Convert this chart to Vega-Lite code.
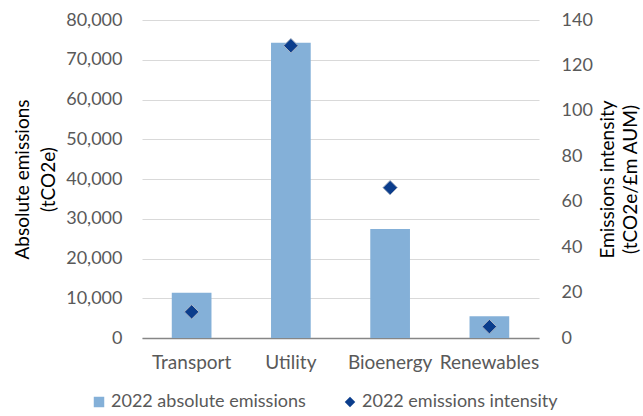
{
  "$schema": "https://vega.github.io/schema/vega-lite/v6.json",
  "width": 397,
  "height": 318,
  "autosize": "none",
  "padding": {"left": 142, "top": 20, "right": 104, "bottom": 78},
  "background": "white",
  "config": {
    "view": {"stroke": null},
    "font": "Lato",
    "axis": {"labelFont": "Lato", "titleFont": "Lato", "labelColor": "#595959", "labelFontSize": 18, "titleFontSize": 19, "titleFontWeight": "normal", "titleColor": "#000000", "labelOverlap": false},
    "legend": {"labelFont": "Lato", "labelFontSize": 18, "labelColor": "#595959", "labelLimit": 400}
  },
  "data": {
    "values": [
      {"sector": "Transport", "series": "2022 absolute emissions", "value": 11400},
      {"sector": "Utility", "series": "2022 absolute emissions", "value": 74300},
      {"sector": "Bioenergy", "series": "2022 absolute emissions", "value": 27400},
      {"sector": "Renewables", "series": "2022 absolute emissions", "value": 5500},
      {"sector": "Transport", "series": "2022 emissions intensity", "value": 11.5},
      {"sector": "Utility", "series": "2022 emissions intensity", "value": 128.7},
      {"sector": "Bioenergy", "series": "2022 emissions intensity", "value": 66.2},
      {"sector": "Renewables", "series": "2022 emissions intensity", "value": 5.0}
    ]
  },
  "encoding": {
    "x": {
      "field": "sector", "type": "nominal", "sort": ["Transport", "Utility", "Bioenergy", "Renewables"],
      "scale": {"paddingInner": 0.6, "paddingOuter": 0.3},
      "axis": {"title": null, "labelAngle": 0, "ticks": false, "labelPadding": 15, "labelFontSize": 19, "domainColor": "#868686", "domainWidth": 1.5}
    }
  },
  "layer": [
    {
      "transform": [{"filter": "datum.series === '2022 absolute emissions'"}],
      "mark": {"type": "bar", "color": "#84b0d8"},
      "encoding": {
        "y": {
          "field": "value", "type": "quantitative",
          "scale": {"domain": [0, 80000], "nice": false},
          "axis": {"title": ["Absolute emissions", "(tCO2e)"], "values": [0,10000,20000,30000,40000,50000,60000,70000,80000], "format": ",.0f", "ticks": false, "domain": false, "labelPadding": 20, "gridColor": "#d9d9d9", "titlePadding": 7, "titleLineHeight": 26}
        },
        "color": {
          "field": "series", "type": "nominal",
          "scale": {"domain": ["2022 absolute emissions", "2022 emissions intensity"], "range": ["#84b0d8", "#0b3d8c"]},
          "legend": {"title": null, "orient": "none", "legendX": -52, "legendY": 373, "direction": "horizontal", "columnPadding": 35, "symbolSize": 110, "labelOffset": 3, "symbolStrokeWidth": 0}
        }
      }
    },
    {
      "transform": [{"filter": "datum.series === '2022 emissions intensity'"}],
      "mark": {"type": "point", "filled": true, "size": 210, "stroke": "#aab4c4", "strokeWidth": 1, "opacity": 1},
      "encoding": {
        "y": {
          "field": "value", "type": "quantitative",
          "scale": {"domain": [0, 140], "nice": false},
          "axis": {"orient": "right", "title": ["Emissions intensity", "(tCO2e/£m AUM)"], "values": [0,20,40,60,80,100,120,140], "ticks": false, "domain": false, "grid": false, "labelPadding": 22, "titleAngle": 270, "titlePadding": 2, "titleLineHeight": 23}
        },
        "color": {"field": "series", "type": "nominal"},
        "shape": {
          "field": "series", "type": "nominal",
          "scale": {"domain": ["2022 absolute emissions", "2022 emissions intensity"], "range": ["square", "diamond"]},
          "legend": {"title": null, "orient": "none", "legendX": -52, "legendY": 373, "direction": "horizontal", "columnPadding": 35, "symbolSize": 110, "labelOffset": 3, "symbolStrokeWidth": 0}
        }
      }
    }
  ],
  "resolve": {"scale": {"y": "independent"}}
}
